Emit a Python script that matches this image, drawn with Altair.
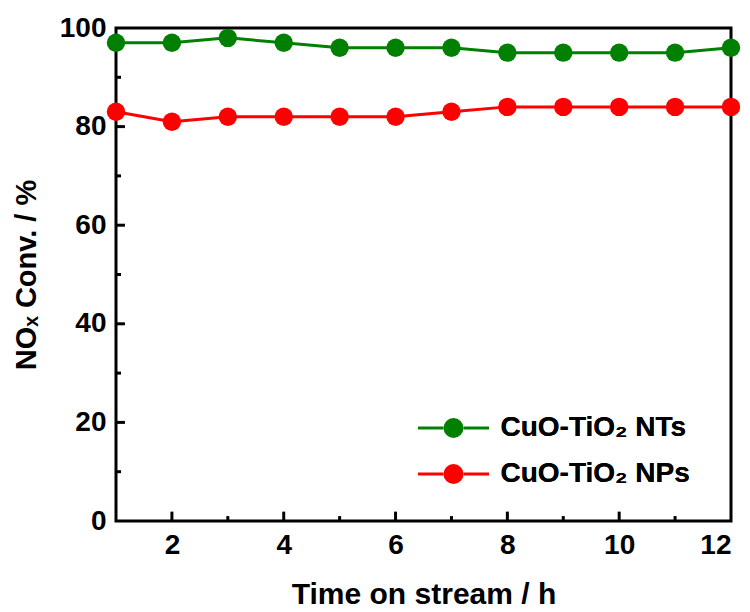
import altair as alt
import pandas as pd

# ---- data ----
time_h = [1, 2, 3, 4, 5, 6, 7, 8, 9, 10, 11, 12]
conv_nts = [97, 97, 98, 97, 96, 96, 96, 95, 95, 95, 95, 96]
conv_nps = [83, 81, 82, 82, 82, 82, 83, 84, 84, 84, 84, 84]
series_names = ["CuO-TiO\u2082 NTs", "CuO-TiO\u2082 NPs"]
series_colors = ["#008000", "#ff0000"]

x_major = [2, 4, 6, 8, 10, 12]
x_minor = [3, 5, 7, 9, 11]
y_major = [0, 20, 40, 60, 80, 100]
y_major_inner = [20, 40, 60, 80]
y_minor = [10, 30, 50, 70, 90]

FONT = "Liberation Sans"

rows = []
for name, vals in zip(series_names, [conv_nts, conv_nps]):
    for t, v in zip(time_h, vals):
        rows.append({"t": t, "v": v, "series": name})
df = pd.DataFrame(rows)

xs = alt.Scale(domain=[1, 12], nice=False, zero=False)
ys = alt.Scale(domain=[0, 100], nice=False)
cs = alt.Scale(domain=series_names, range=series_colors)

LEG_X, LEG_Y = 298, 386
leg_common = dict(
    title=None, orient="none", legendX=LEG_X, legendY=LEG_Y,
    symbolSize=400, symbolOffset=25.5, labelOffset=33, rowPadding=18,
    labelFont=FONT, labelFontSize=28, labelFontWeight="bold", labelLimit=400,
    labelColor="black", padding=0,
)

x_enc = alt.X("t:Q", scale=xs,
              axis=alt.Axis(values=x_major, format="d", title="Time on stream / h",
                            domain=False, ticks=False, grid=False,
                            labelPadding=10, titlePadding=20))
y_enc = alt.Y("v:Q", scale=ys,
              axis=alt.Axis(values=y_major, format="d", title="NO\u2093 Conv. / %",
                            titleFontSize=29,
                            domain=False, ticks=False, grid=False,
                            labelPadding=10, titlePadding=18))

lines = alt.Chart(df).mark_line(strokeWidth=3).encode(
    x=x_enc, y=y_enc,
    stroke=alt.Stroke("series:N", scale=cs, sort=series_names,
                      legend=alt.Legend(symbolType="M-3.55,0H-1M1,0H3.55",
                                        symbolStrokeWidth=3, **leg_common)),
)

points = alt.Chart(df).mark_circle(size=340, opacity=1).encode(
    x="t:Q", y="v:Q",
    fill=alt.Fill("series:N", scale=cs, sort=series_names,
                  legend=alt.Legend(symbolType="circle", symbolStrokeWidth=0,
                                    symbolOpacity=1, **leg_common)),
)

# inward ticks drawn through the scales
xt = pd.DataFrame([{"t": v, "a": 0, "b": 1.9} for v in x_major[:-1]] +
                  [{"t": v, "a": 0, "b": 1.0} for v in x_minor])
yt = pd.DataFrame([{"v": v, "a": 1, "b": 1.16} for v in y_major_inner] +
                  [{"v": v, "a": 1, "b": 1.09} for v in y_minor])

xticks = alt.Chart(xt).mark_rule(color="black", strokeWidth=3).encode(
    x="t:Q", y="a:Q", y2="b:Q")
yticks = alt.Chart(yt).mark_rule(color="black", strokeWidth=3).encode(
    y="v:Q", x="a:Q", x2="b:Q")

chart = alt.layer(xticks, yticks, lines, points).resolve_legend(
    stroke="independent", fill="independent"
).properties(
    width=615, height=493,
    autosize=alt.AutoSizeParams(type="none"),
    padding={"left": 116, "top": 28, "right": 19, "bottom": 91},
).configure_view(
    stroke="black", strokeWidth=3
).configure_axis(
    labelFont=FONT, labelFontSize=28, labelFontWeight="bold", labelColor="black",
    titleFont=FONT, titleFontSize=30, titleFontWeight="bold", titleColor="black",
)

chart.save("out.html", embed_options={"renderer": "svg", "actions": False})
